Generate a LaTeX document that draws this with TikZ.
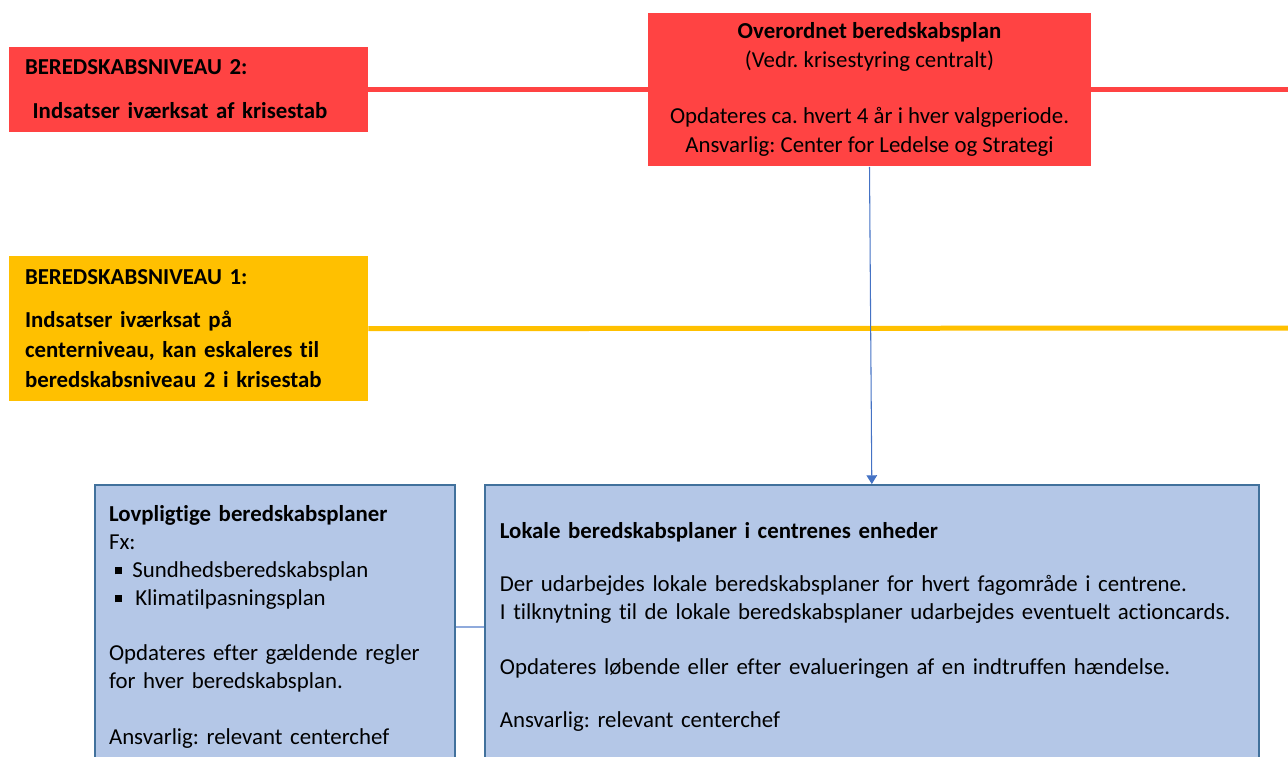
\documentclass[tikz,border=0pt]{standalone}
\usepackage{fontspec}
\setmainfont{Carlito}[Ligatures=NoCommon]
\usepackage{tikz}
\usepackage{xcolor}
\usetikzlibrary{shapes,arrows,arrows.meta,positioning,calc}
\definecolor{crisisred}{RGB}{255,67,67}
\definecolor{levelyellow}{RGB}{255,192,0}
\definecolor{planblue}{RGB}{180,199,231}
\definecolor{planborder}{RGB}{65,113,156}
\definecolor{arrowblue}{RGB}{68,114,196}
\definecolor{linkblue}{RGB}{143,170,220}
\frenchspacing

\begin{document}
\begin{tikzpicture}[x=0.02cm, y=-0.02cm,
    font=\fontsize{13}{15.9}\selectfont,
    levelbox/.style={rectangle, minimum width=7.18cm, text width=6.54cm, inner xsep=0.32cm, align=left, font=\fontsize{13}{17}\selectfont\bfseries},
    planbox/.style={draw=planborder, line width=1.1pt, rectangle, fill=planblue, minimum height=5.68cm, align=left},
    levelline/.style={line width=0.1cm}]
    \useasboundingbox (0,0) rectangle (1288,757);

    \node[levelbox, fill=crisisred, minimum height=1.70cm] (niveau2) at (188.5,89.5) {BEREDSKABSNIVEAU 2:\\[8pt]\ Indsatser iværksat af krisestab};
    \node[levelbox, fill=levelyellow, minimum height=2.90cm, below=2.47cm of niveau2] (niveau1) {BEREDSKABSNIVEAU 1:\\[7.4pt]Indsatser iværksat på\\centerniveau, kan eskaleres til\\beredskabsniveau 2 i krisestab};

    \node[rectangle, fill=crisisred, minimum width=8.86cm, minimum height=3.08cm, align=center, font=\fontsize{13}{16.2}\selectfont] (overordnet) at (869.5,89.5) {\textbf{Overordnet beredskabsplan}\\(Vedr. krisestyring centralt)\\[15.9pt]Opdateres ca. hvert 4 år i hver valgperiode.\\Ansvarlig: Center for Ledelse og Strategi};

    \node[planbox, minimum width=7.20cm, text width=6.64cm, inner xsep=0.28cm] (lovpligtig) at (275,627) {\textbf{Lovpligtige beredskabsplaner}\\Fx:\\\hspace{0.12cm}\rule[0.25ex]{0.32em}{0.32em}\hspace{0.20cm}Sundhedsberedskabsplan\\\hspace{0.12cm}\rule[0.25ex]{0.32em}{0.32em}\hspace{0.26cm}Klimatilpasningsplan\\[15.9pt]Opdateres efter gældende regler\\for hver beredskabsplan.\\[15.9pt]Ansvarlig: relevant centerchef};
    \node[planbox, minimum width=15.48cm, text width=14.88cm, inner xsep=0.30cm, right=0.56cm of lovpligtig] (lokal) {\textbf{Lokale beredskabsplaner i centrenes enheder}\\[14pt]Der udarbejdes lokale beredskabsplaner for hvert fagområde i centrene.\\I tilknytning til de lokale beredskabsplaner udarbejdes eventuelt actioncards.\\[15.9pt]Opdateres løbende eller efter evalueringen af en indtruffen hændelse.\\[14pt]Ansvarlig: relevant centerchef};

    \coordinate (redend) at (1288,89.5);
    \coordinate (yellowend) at (1288,328);

    \draw[levelline, crisisred] (niveau2.east) -- (overordnet.west);
    \draw[levelline, crisisred] (overordnet.east) -- (redend);
    \draw[levelline, levelyellow] (niveau1.east) -- (yellowend);
    \draw[arrowblue, line width=0.6pt, -{Triangle[width=6pt,length=5pt]}] (overordnet.south) -- (lokal.north);
    \draw[linkblue, line width=1.1pt] (lovpligtig.east) -- (lokal.west);
\end{tikzpicture}
\end{document}
